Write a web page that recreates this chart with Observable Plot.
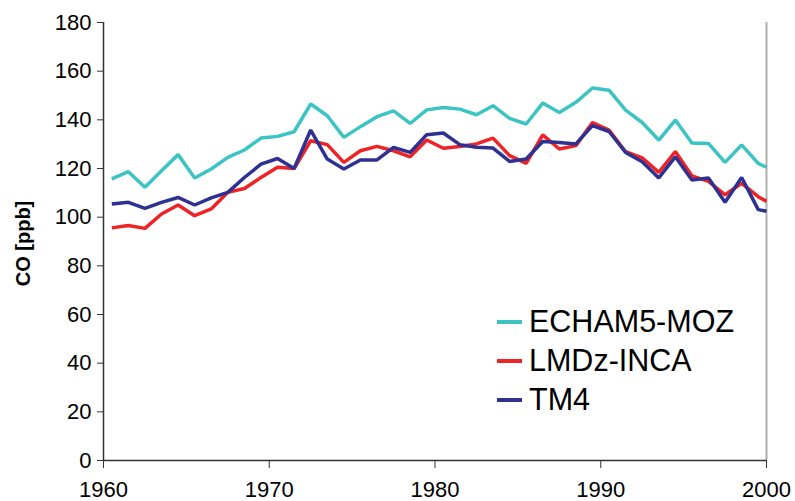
<!DOCTYPE html>
<html>
<head>
<meta charset="utf-8">
<script src="https://cdn.jsdelivr.net/npm/d3@7"></script>
<script src="https://cdn.jsdelivr.net/npm/@observablehq/plot@0.6"></script>
<style>
  html, body { margin: 0; padding: 0; background: #fff; }
  #wrap { position: relative; width: 795px; height: 501px; font-family: "Liberation Sans", Arial, sans-serif; }
  #legend { position: absolute; left: 497px; top: 302px; }
  .row { display: flex; align-items: center; height: 39px; font-size: 30.5px; color: #000; }
  .sw { width: 25px; height: 4px; margin-right: 7px; }
</style>
</head>
<body>
<div id="wrap"><div id="legend"></div></div>
<script>
const years = [1960.5,1961.5,1962.5,1963.5,1964.5,1965.5,1966.5,1967.5,1968.5,1969.5,
  1970.5,1971.5,1972.5,1973.5,1974.5,1975.5,1976.5,1977.5,1978.5,1979.5,
  1980.5,1981.5,1982.5,1983.5,1984.5,1985.5,1986.5,1987.5,1988.5,1989.5,
  1990.5,1991.5,1992.5,1993.5,1994.5,1995.5,1996.5,1997.5,1998.5,1999.5,2000];
const echam = [115.7,118.7,112.3,119.1,125.7,116.1,119.8,124.6,127.6,132.5,
  133.2,135.1,146.5,141.7,132.8,137.2,141.3,143.7,138.5,144.1,
  145.1,144.4,142.1,145.8,140.6,138.3,146.9,143.0,147.2,153.1,
  152.2,144.0,138.9,131.7,139.9,130.5,130.3,122.5,129.7,122.1,120.5];
const lmdz = [95.6,96.6,95.4,101.3,105.0,100.6,103.4,110.2,111.8,116.3,
  120.5,120.0,131.4,129.8,122.5,127.3,129.1,127.3,124.8,131.7,
  128.3,129.0,130.1,132.5,125.3,122.1,133.8,128.0,129.4,138.9,
  135.8,126.9,124.4,118.4,127.0,117.0,114.7,109.2,113.9,108.4,106.5];
const tm4 = [105.4,106.1,103.6,106.1,108.1,105.0,107.9,110.2,116.3,121.8,
  124.1,120.0,135.8,123.9,119.8,123.5,123.5,128.7,126.6,133.9,
  134.6,129.8,128.7,128.4,122.9,123.9,131.1,130.7,130.1,137.6,
  135.2,126.6,122.8,116.1,124.8,115.3,116.1,106.1,116.3,103.1,102.4];
const seriesNames = ["ECHAM5-MOZ", "LMDz-INCA", "TM4"];
const seriesColors = ["#3cc3c3", "#ee2326", "#2e3192"];
const xTicks = [1960, 1970, 1980, 1990, 2000];
const yTicks = [0, 20, 40, 60, 80, 100, 120, 140, 160, 180];
const yLabel = "CO [ppb]";

const allValues = [echam, lmdz, tm4];
const data = [];
seriesNames.forEach((name, s) => {
  years.forEach((yr, i) => data.push({series: name, year: yr, value: allValues[s][i]}));
});

const chart = Plot.plot({
  width: 795,
  height: 501,
  marginLeft: 103,
  marginRight: 29,
  marginTop: 22,
  marginBottom: 41,
  style: {fontFamily: "'Liberation Sans', Arial, sans-serif", fontSize: "22px", color: "#000", background: "#fff"},
  x: {domain: [1960, 2000]},
  y: {domain: [0, 180]},
  color: {domain: seriesNames, range: seriesColors},
  marks: [
    Plot.ruleX([2000], {stroke: "#b0b0b0", strokeWidth: 2}),
    Plot.lineY(data, {x: "year", y: "value", z: "series", stroke: "series", strokeWidth: 3.5, strokeLinejoin: "miter", strokeLinecap: "butt"}),
    Plot.ruleY([0], {stroke: "#333", strokeWidth: 1.5}),
    Plot.ruleX([1960], {stroke: "#333", strokeWidth: 1.5}),
    Plot.axisX({ticks: xTicks, tickFormat: d => String(d), tickSize: 8, tickPadding: 13, label: null, stroke: "#333", fontSize: 22}),
    Plot.axisY({ticks: yTicks, tickSize: 6, tickPadding: 6, label: null, stroke: "#333", fontSize: 22}),
    Plot.text([yLabel], {frameAnchor: "left", textAnchor: "middle", rotate: -90, dx: -80, dy: 2, fontWeight: "bold", fontSize: 20, fill: "#000"})
  ]
});
document.getElementById("wrap").prepend(chart);

const legend = document.getElementById("legend");
seriesNames.forEach((name, i) => {
  const row = document.createElement("div");
  row.className = "row";
  const sw = document.createElement("div");
  sw.className = "sw";
  sw.style.background = seriesColors[i];
  const label = document.createElement("span");
  label.textContent = name;
  row.appendChild(sw);
  row.appendChild(label);
  legend.appendChild(row);
});
</script>
</body>
</html>
